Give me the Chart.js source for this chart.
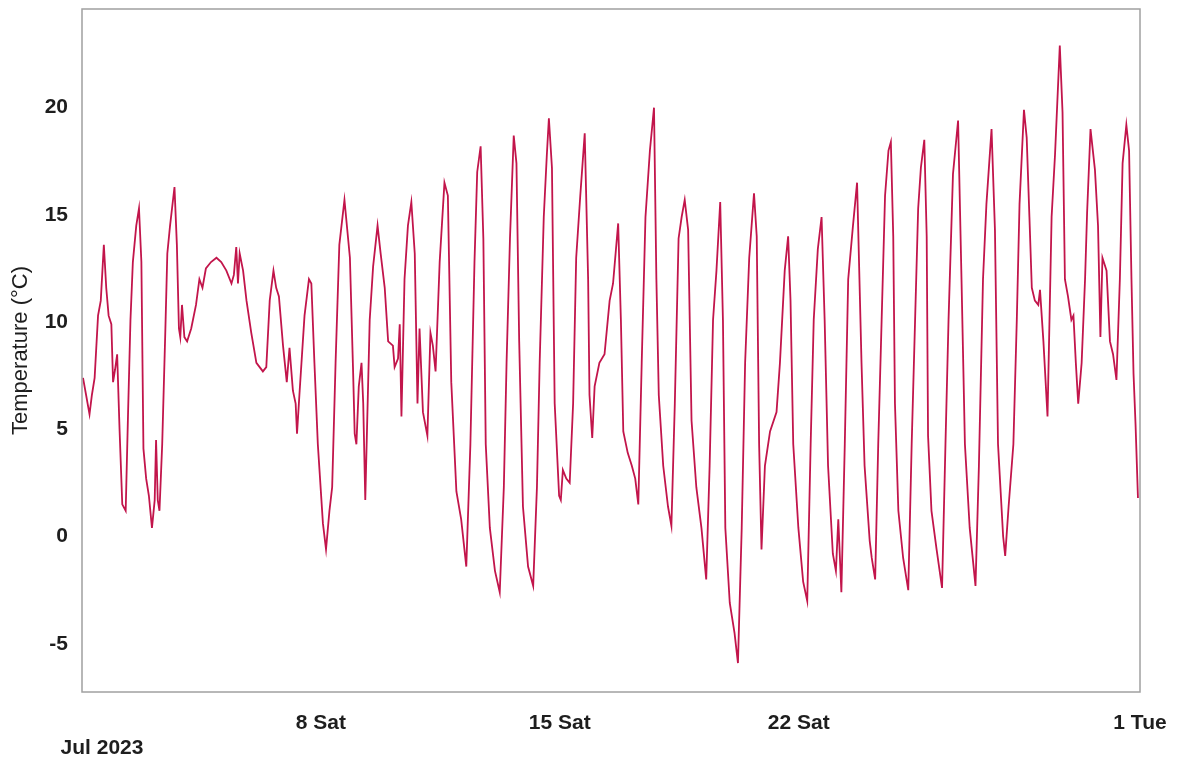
<!DOCTYPE html>
<html>
<head>
<meta charset="utf-8">
<title>Temperature Jul 2023</title>
<script src="https://cdn.jsdelivr.net/npm/chart.js@4.4.0/dist/chart.umd.min.js"></script>
<style>
  html, body { margin: 0; padding: 0; background: #fff; }
  canvas { display: block; }
</style>
</head>
<body>
<canvas id="tempChart" width="1177" height="764"></canvas>
<script>
// Days since 1 Jul 2023 00:00 and the temperature read at that moment
const days = [
  0.03, 0.12, 0.22, 0.29, 0.37, 0.47, 0.55, 0.64, 0.71, 0.78, 0.86, 0.91, 0.97, 1.03, 1.10, 1.18, 1.28, 1.35, 1.42, 1.49,
  1.59, 1.67, 1.74, 1.80, 1.88, 1.96, 2.05, 2.13, 2.17, 2.22, 2.27, 2.35, 2.44, 2.50, 2.58, 2.71, 2.78, 2.84, 2.88, 2.93,
  3.00, 3.08, 3.20, 3.34, 3.44, 3.53, 3.63, 3.78, 3.94, 4.08, 4.23, 4.38, 4.45, 4.52, 4.57, 4.62, 4.72, 4.82, 4.96, 5.11,
  5.30, 5.40, 5.50, 5.61, 5.69, 5.77, 5.89, 6.00, 6.08, 6.18, 6.26, 6.30, 6.37, 6.52, 6.65, 6.72, 6.81, 6.91, 7.06, 7.15,
  7.25, 7.33, 7.43, 7.54, 7.69, 7.85, 7.94, 7.99, 8.04, 8.11, 8.19, 8.24, 8.30, 8.43, 8.53, 8.66, 8.75, 8.87, 8.97, 9.11,
  9.16, 9.26, 9.31, 9.36, 9.45, 9.55, 9.65, 9.75, 9.83, 9.89, 9.99, 10.12, 10.21, 10.28, 10.36, 10.48, 10.62, 10.72, 10.82, 10.97,
  11.11, 11.26, 11.38, 11.50, 11.58, 11.68, 11.76, 11.83, 11.95, 12.10, 12.24, 12.36, 12.44, 12.54, 12.65, 12.73, 12.81, 12.92, 13.07, 13.22,
  13.33, 13.41, 13.53, 13.62, 13.68, 13.77, 13.85, 13.98, 14.03, 14.09, 14.19, 14.29, 14.39, 14.48, 14.60, 14.73, 14.83, 14.87, 14.95, 15.02,
  15.16, 15.31, 15.46, 15.56, 15.71, 15.79, 15.86, 15.99, 16.11, 16.21, 16.30, 16.40, 16.51, 16.64, 16.76, 16.83, 16.90, 17.03, 17.17, 17.27,
  17.37, 17.48, 17.57, 17.66, 17.76, 17.86, 18.00, 18.15, 18.29, 18.39, 18.49, 18.59, 18.70, 18.78, 18.85, 18.98, 19.12, 19.22, 19.33, 19.43,
  19.55, 19.69, 19.77, 19.84, 19.91, 20.01, 20.16, 20.35, 20.45, 20.59, 20.69, 20.76, 20.84, 20.99, 21.13, 21.25, 21.35, 21.44, 21.56, 21.67,
  21.76, 21.86, 22.00, 22.09, 22.16, 22.25, 22.35, 22.45, 22.59, 22.71, 22.84, 22.93, 23.08, 23.14, 23.24, 23.33, 23.43, 23.53, 23.63, 23.70,
  23.77, 23.82, 23.92, 24.06, 24.21, 24.31, 24.41, 24.50, 24.58, 24.68, 24.75, 24.79, 24.89, 25.04, 25.20, 25.30, 25.39, 25.52, 25.67, 25.77,
  25.87, 26.01, 26.18, 26.28, 26.40, 26.50, 26.65, 26.75, 26.84, 26.99, 27.05, 27.15, 27.29, 27.39, 27.47, 27.60, 27.68, 27.76, 27.83, 27.92,
  28.02, 28.07, 28.17, 28.29, 28.41, 28.51, 28.65, 28.73, 28.80, 28.89, 28.99, 29.05, 29.12, 29.19, 29.29, 29.39, 29.45, 29.55, 29.68, 29.77,
  29.84, 29.90, 30.02, 30.12, 30.21, 30.31, 30.41, 30.49, 30.60, 30.68, 30.75, 30.81, 30.87, 30.94
];

const temps = [
  7.4, 6.6, 5.7, 6.6, 7.4, 10.3, 11.0, 13.6, 11.6, 10.3, 9.9, 7.2, 7.8, 8.5, 5.0, 1.5, 1.2, 5.8, 10.1, 12.8,
  14.5, 15.3, 12.8, 4.1, 2.7, 1.9, 0.4, 1.7, 4.5, 1.7, 1.2, 4.3, 9.5, 13.2, 14.5, 16.3, 13.6, 9.7, 9.3, 10.8,
  9.3, 9.1, 9.7, 10.8, 12.0, 11.6, 12.5, 12.8, 13.0, 12.8, 12.4, 11.8, 12.2, 13.5, 11.8, 13.2, 12.4, 11.0, 9.5, 8.1,
  7.7, 7.9, 11.0, 12.4, 11.6, 11.2, 8.9, 7.2, 8.8, 6.8, 6.2, 4.8, 6.6, 10.3, 12.0, 11.8, 8.1, 4.3, 0.6, -0.6,
  1.2, 2.3, 8.1, 13.6, 15.7, 13.0, 7.9, 4.8, 4.3, 7.0, 8.1, 6.2, 1.7, 10.1, 12.6, 14.5, 13.2, 11.6, 9.1, 8.9,
  7.9, 8.3, 9.9, 5.6, 12.0, 14.5, 15.6, 13.2, 6.2, 9.7, 5.8, 4.7, 9.5, 8.9, 7.7, 12.8, 16.5, 15.9, 7.2, 2.1,
  0.8, -1.4, 4.3, 12.8, 17.0, 18.2, 13.9, 4.3, 0.4, -1.6, -2.6, 2.3, 8.1, 13.9, 18.7, 17.4, 9.1, 1.4, -1.4, -2.3,
  2.3, 8.1, 14.9, 17.8, 19.5, 17.2, 6.2, 1.9, 1.7, 3.1, 2.7, 2.5, 6.2, 13.0, 15.9, 18.8, 12.0, 6.6, 4.6, 7.0,
  8.1, 8.5, 11.0, 11.8, 14.6, 10.1, 4.9, 3.9, 3.3, 2.7, 1.5, 8.1, 14.9, 18.0, 20.0, 12.0, 6.6, 3.3, 1.4, 0.5,
  6.2, 13.9, 14.9, 15.7, 14.3, 5.4, 2.3, 0.4, -2.0, 3.3, 10.1, 12.4, 15.6, 10.1, 0.4, -3.1, -4.5, -5.9, 0.4, 8.1,
  13.0, 16.0, 14.0, 4.3, -0.6, 3.3, 4.9, 5.8, 8.1, 12.4, 14.0, 11.0, 4.3, 0.4, -2.1, -3.0, 4.3, 10.1, 13.4, 14.9,
  10.1, 3.3, -0.8, -1.6, 0.8, -2.6, 4.3, 12.0, 14.5, 16.5, 8.1, 3.3, -0.2, -1.0, -2.0, 4.3, 10.1, 15.9, 18.0, 18.4,
  14.0, 6.2, 1.2, -1.0, -2.5, 4.3, 10.1, 15.3, 17.2, 18.5, 14.0, 4.7, 1.2, -0.6, -2.4, 4.3, 10.1, 16.9, 19.4, 12.0,
  4.3, 0.4, -2.3, 3.3, 12.0, 15.5, 19.0, 14.3, 4.3, 0.0, -0.9, 1.4, 4.3, 10.1, 15.5, 19.9, 18.6, 14.9, 11.6, 11.0,
  10.8, 11.5, 9.1, 5.6, 14.9, 17.8, 22.9, 19.8, 12.0, 11.2, 10.1, 10.3, 8.1, 6.2, 8.1, 12.0, 15.1, 19.0, 17.1, 14.5,
  9.3, 13.0, 12.4, 9.1, 8.5, 7.3, 12.0, 17.4, 19.2, 18.0, 12.0, 7.6, 5.2, 1.8
];

// Axis ticks
const xTickDays = [7, 14, 21, 31];
const xTickLabels = ['8 Sat', '15 Sat', '22 Sat', '1 Tue'];
const yTicks = [-5, 0, 5, 10, 15, 20];
const monthLabel = 'Jul 2023';

const FONT = "'Liberation Sans', Arial, sans-serif";
const TEXT_COLOR = '#1e1e1e';

// Box around the plot area + month caption under the first tick
const frame = {
  id: 'frame',
  afterDraw(chart) {
    const { ctx, chartArea: a } = chart;
    ctx.save();
    ctx.strokeStyle = '#a0a0a0';
    ctx.lineWidth = 1.5;
    ctx.strokeRect(a.left, a.top, a.right - a.left, a.bottom - a.top);
    ctx.fillStyle = TEXT_COLOR;
    ctx.font = `bold 21px ${FONT}`;
    ctx.textAlign = 'center';
    ctx.textBaseline = 'middle';
    ctx.fillText(monthLabel, 102, 748);
    ctx.restore();
  }
};

new Chart(document.getElementById('tempChart'), {
  type: 'line',
  data: {
    datasets: [{
      label: 'Temperature',
      data: days.map((d, i) => ({ x: d, y: temps[i] })),
      borderColor: '#c2154b',
      borderWidth: 1.8,
      pointRadius: 0,
      tension: 0,
      fill: false
    }]
  },
  options: {
    responsive: false,
    animation: false,
    devicePixelRatio: 1,
    layout: { padding: { top: 9, right: 37, bottom: 0, left: 0 } },
    plugins: {
      legend: { display: false },
      tooltip: { enabled: false }
    },
    scales: {
      x: {
        type: 'linear',
        min: 0,
        max: 31,
        afterBuildTicks: scale => { scale.ticks = xTickDays.map(v => ({ value: v })); },
        afterFit: scale => {
          scale.height = 72;
          scale.paddingLeft = 0;
          scale.paddingRight = 0;
        },
        grid: { display: false, drawTicks: false },
        border: { display: false },
        ticks: {
          autoSkip: false,
          maxRotation: 0,
          padding: 19,
          color: TEXT_COLOR,
          font: { family: FONT, size: 21, weight: 'bold' },
          callback: val => xTickLabels[xTickDays.indexOf(val)] || ''
        }
      },
      y: {
        min: -7.25,
        max: 24.6,
        afterBuildTicks: scale => { scale.ticks = yTicks.map(v => ({ value: v })); },
        afterFit: scale => {
          scale.width = 82;
          scale.paddingTop = 0;
          scale.paddingBottom = 0;
        },
        grid: { display: false, drawTicks: false },
        border: { display: false },
        ticks: {
          padding: 14,
          color: TEXT_COLOR,
          font: { family: FONT, size: 21, weight: 'bold' }
        },
        title: {
          display: true,
          text: 'Temperature (°C)',
          color: TEXT_COLOR,
          font: { family: FONT, size: 22 },
          padding: { top: 8, bottom: 0 }
        }
      }
    }
  },
  plugins: [frame]
});
</script>
</body>
</html>
